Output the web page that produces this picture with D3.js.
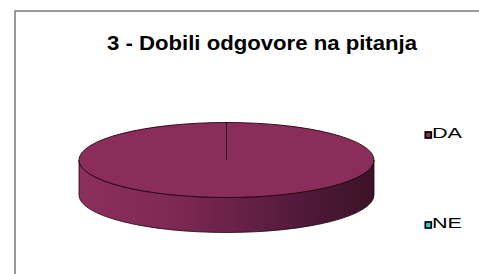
<!DOCTYPE html>
<html>
<head>
<meta charset="utf-8">
<script src="https://cdn.jsdelivr.net/npm/d3@7"></script>
<style>
  body { margin: 0; background: #fff; }
  svg { display: block; font-family: "Liberation Sans", Arial, sans-serif; }
</style>
</head>
<body>
<div class="layout"></div>
<script>
// chart data
var categories = ["DA", "NE"]
var values = [100, 0]
var colors = ["#8b2d5b", "#33cccc"]
var title = "3 - Dobili odgovore na pitanja"

var width = 479
var height = 274

var svg = d3.select("div.layout")
  .append("svg")
  .attr("width", width)
  .attr("height", height)

// outer frame (runs past the right and bottom edge)
svg.append("rect")
  .attr("x", 15)
  .attr("y", 11)
  .attr("width", 480)
  .attr("height", 280)
  .attr("fill", "#fff")
  .attr("stroke", "#808080")
  .attr("stroke-width", 1.6)

// title, the source picture is stretched horizontally
svg.append("text")
  .attr("x", 107)
  .attr("y", 50)
  .attr("font-size", 20)
  .attr("font-weight", "bold")
  .attr("textLength", 310)
  .attr("lengthAdjust", "spacingAndGlyphs")
  .text(title)

// 3d pie geometry
var cx = 226.5, cy = 160, rx = 147.5, ry = 37.5, depth = 35

var defs = svg.append("defs")
var grad = defs.append("linearGradient")
  .attr("id", "sideGrad")
  .attr("gradientUnits", "userSpaceOnUse")
  .attr("x1", cx - rx).attr("x2", cx + rx)
  .attr("y1", 0).attr("y2", 0)
grad.append("stop").attr("offset", "0%").attr("stop-color", "#8d2f5d")
grad.append("stop").attr("offset", "35%").attr("stop-color", "#7c2851")
grad.append("stop").attr("offset", "75%").attr("stop-color", "#52193a")
grad.append("stop").attr("offset", "100%").attr("stop-color", "#3c1227")

var pie = d3.pie().sort(null).value(function (d) { return d })
var slices = pie(values)

function px(a) { return cx + rx * Math.sin(a) }
function py(a) { return cy - ry * Math.cos(a) }

// side walls, only the front half is visible
var side = svg.append("g").attr("class", "sides")
slices.forEach(function (s, i) {
  var a0 = Math.max(s.startAngle, Math.PI / 2)
  var a1 = Math.min(s.endAngle, Math.PI * 1.5)
  if (a1 <= a0) return
  var path = "M" + px(a0) + "," + py(a0)
    + "A" + rx + "," + ry + " 0 0 1 " + px(a1) + "," + py(a1)
    + "L" + px(a1) + "," + (py(a1) + depth)
    + "A" + rx + "," + ry + " 0 0 0 " + px(a0) + "," + (py(a0) + depth)
    + "Z"
  side.append("path")
    .attr("d", path)
    .attr("fill", i === 0 ? "url(#sideGrad)" : d3.color(colors[i]).darker(1))
    .attr("stroke", "#1c0610")
    .attr("stroke-width", 0.8)
})

// top face
var arc = d3.arc().innerRadius(0).outerRadius(rx)
svg.append("g")
  .attr("transform", "translate(" + cx + "," + cy + ") scale(1," + (ry / rx) + ")")
  .selectAll("path")
  .data(slices)
  .enter()
  .append("path")
  .attr("d", arc)
  .attr("fill", function (d, i) { return colors[i] })
  .attr("stroke", "#1c0610")
  .attr("stroke-width", 0.9)
  .attr("vector-effect", "non-scaling-stroke")

// legend
var legend = svg.selectAll("g.legend")
  .data(categories)
  .enter()
  .append("g")
  .attr("class", "legend")
  .attr("transform", function (d, i) { return "translate(425," + (132 + i * 90) + ")" })

legend.append("rect")
  .attr("x", 0.3)
  .attr("y", 0)
  .attr("width", 6)
  .attr("height", 6)
  .attr("fill", function (d, i) { return colors[i] })
  .attr("stroke", "#000")
  .attr("stroke-width", 1.7)

legend.append("text")
  .attr("x", 7)
  .attr("y", 6.3)
  .attr("font-size", 15)
  .attr("textLength", 30)
  .attr("lengthAdjust", "spacingAndGlyphs")
  .text(function (d) { return d })
</script>
</body>
</html>
